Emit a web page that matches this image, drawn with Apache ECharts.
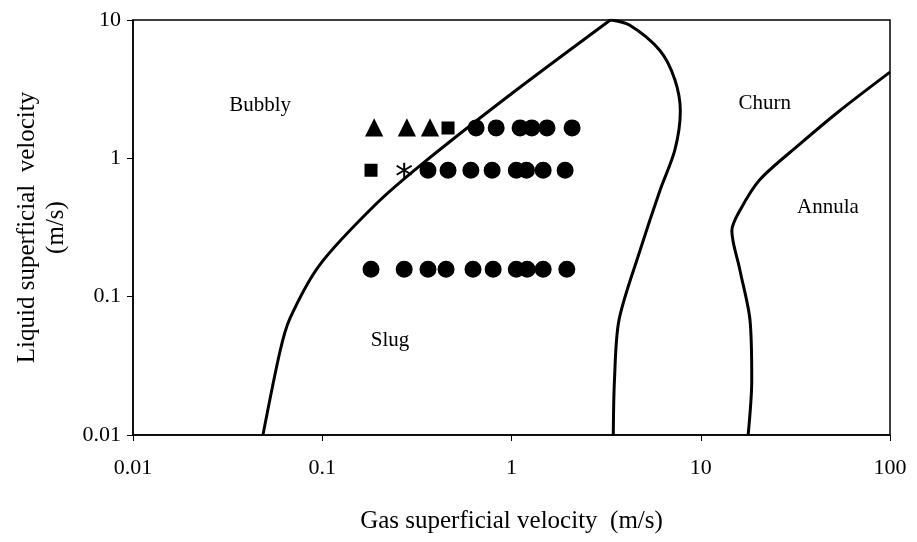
<!DOCTYPE html>
<html>
<head>
<meta charset="utf-8">
<script src="https://cdn.jsdelivr.net/npm/echarts@6/dist/echarts.min.js"></script>
<style>html,body{margin:0;padding:0;background:#fff}#c{width:917px;height:542px}</style>
</head>
<body>
<div id="c"></div>
<script>
// boundary curves [gas, liquid]
const bubblySlug = [[0.0486,0.01],[0.06,0.041],[0.0676,0.07],[0.097,0.17],[0.19,0.46],[0.33,0.89],[0.98,2.87],[3.33,10]];
const slugChurn = [[3.33,10],[4.2,9.2],[6.1,6.0],[7.3,3.7],[7.8,2.2],[7.3,1.15],[6.1,0.59],[4.8,0.22],[3.7,0.068],[3.5,0.025],[3.45,0.01]];
const churnAnnular = [[17.8,0.01],[18.6,0.025],[18.2,0.068],[16.1,0.156],[14.6,0.30],[16.1,0.42],[20.5,0.70],[33,1.25],[54,2.2],[100,4.2]];

// experimental points
const triangles = [[0.188,1.66],[0.28,1.66],[0.371,1.66]];
const squares = [[0.462,1.66],[0.181,0.82]];
const stars = [[0.271,0.82]];
const circles = [
  [0.65,1.66],[0.83,1.66],[1.11,1.66],[1.28,1.66],[1.54,1.66],[2.09,1.66],
  [0.362,0.82],[0.462,0.82],[0.61,0.82],[0.79,0.82],[1.06,0.82],[1.2,0.82],[1.47,0.82],[1.92,0.82],
  [0.181,0.158],[0.271,0.158],[0.362,0.158],[0.451,0.158],[0.626,0.158],[0.80,0.158],[1.06,0.158],[1.21,0.158],[1.47,0.158],[1.96,0.158]
];
const regionLabels = [['Bubbly',0.047,2.43],['Churn',21.8,2.5],['Annula',47,0.44],['Slug',0.228,0.0486]];

const font = 'Liberation Serif';
const chart = echarts.init(document.getElementById('c'));
const line = (d) => ({type:'line', data:d, symbol:'none', smooth:0.3, lineStyle:{color:'#000', width:3}, z:2});
const pts = (d, sym, size) => ({type:'scatter', data:d, symbol:sym, symbolSize:size,
  itemStyle:{color:'#000', borderColor:'#000', borderWidth:2, opacity:1}, z:3});
const fmt = v => String(+v.toPrecision(2));

chart.setOption({
  animation:false,
  grid:{left:133, right:27, top:20, bottom:107, outerBoundsMode:'none', containLabel:false},
  xAxis:{type:'log', min:0.01, max:100, logBase:10,
    name:'Gas superficial velocity  (m/s)', nameLocation:'middle', nameGap:74,
    nameTextStyle:{fontFamily:font, fontSize:25, color:'#000'},
    axisLine:{lineStyle:{color:'#000', width:1.5}}, axisTick:{length:6, lineStyle:{color:'#000'}},
    axisLabel:{formatter:fmt, fontFamily:font, fontSize:22, color:'#000', margin:22},
    splitLine:{show:false}, minorTick:{show:false}},
  yAxis:{type:'log', min:0.01, max:10, logBase:10,
    name:'Liquid superficial  velocity\n(m/s)', nameLocation:'middle', nameGap:62,
    nameTextStyle:{fontFamily:font, fontSize:25, color:'#000', lineHeight:29},
    axisLine:{show:true, lineStyle:{color:'#000', width:1.5}}, axisTick:{show:true, length:6, lineStyle:{color:'#000'}},
    axisLabel:{formatter:fmt, fontFamily:font, fontSize:22, color:'#000', margin:12},
    splitLine:{show:false}},
  graphic:[{type:'rect', shape:{x:133, y:20, width:757, height:415}, style:{fill:'none', stroke:'#000', lineWidth:1.5}, z:10}],
  series:[
    line(bubblySlug), line(slugChurn), line(churnAnnular),
    pts(triangles,'triangle',15), pts(squares,'rect',11), pts(circles,'circle',15),
    pts(stars,'path://M0,-10L0,10M-8,-6L8,6M-8,6L8,-6', 15),
    {type:'scatter', data:regionLabels.map(r=>[r[1],r[2],r[0]]), symbolSize:0, itemStyle:{opacity:1},
      label:{show:true, formatter:p=>p.data[2], fontFamily:font, fontSize:21, color:'#000', position:'inside', textBorderWidth:0}}
  ]
});
</script>
</body>
</html>
